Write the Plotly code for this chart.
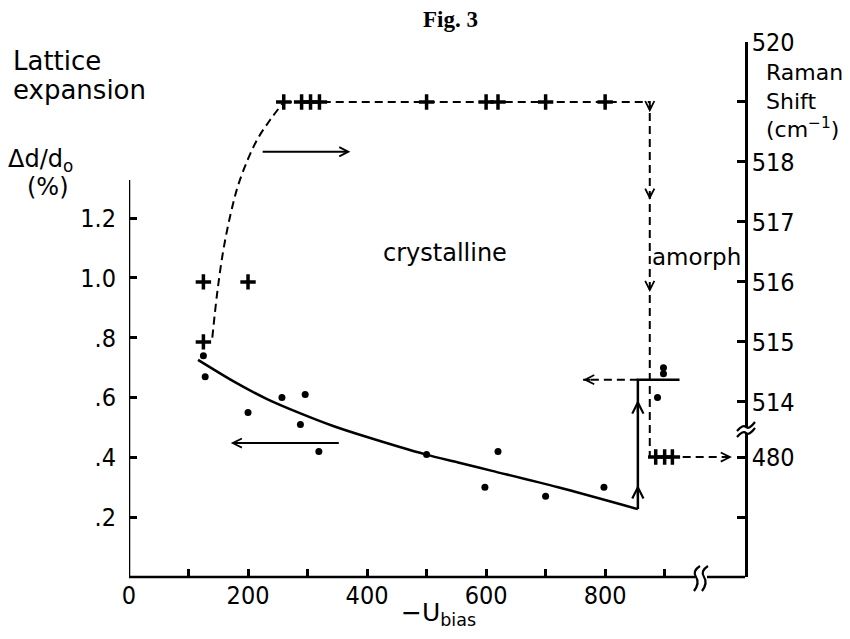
import plotly.graph_objects as go

# ---------------- data ----------------
# Lattice expansion (left axis, %), filled dots
bias_lattice = [125, 128, 200, 257, 288, 296, 319, 500, 598, 620, 700, 798, 888, 898, 898]
lattice = [0.74, 0.67, 0.55, 0.60, 0.51, 0.61, 0.42, 0.41, 0.30, 0.42, 0.27, 0.30, 0.60, 0.70, 0.68]

# smooth solid fit through the lattice data
fit_bias = [116, 175, 232, 287, 343, 400, 498, 553, 610, 721, 855]
fit_lattice = [0.726, 0.655, 0.595, 0.548, 0.505, 0.468, 0.410, 0.383, 0.355, 0.300, 0.227]

# solid jump at the crystalline/amorphous transition
jump_bias = [855, 855, 925]
jump_lattice = [0.227, 0.66, 0.66]

# dashed line pointing back to the lattice axis
back_bias = [855, 763]
back_lattice = [0.66, 0.66]

# Raman shift (right axis, cm-1), "+" markers
bias_raman = [125, 125, 200, 260, 290, 305, 320, 500, 600, 620, 700, 800, 885, 900, 913]
raman = [515, 516, 516, 519, 519, 519, 519, 519, 519, 519, 519, 519, 480, 480, 480]

# dashed guide curve for the Raman data
guide_bias = [140, 148, 158, 170, 183, 200, 217, 237, 260]
guide_raman = [515.07, 515.8, 516.5, 517.1, 517.6, 518.05, 518.4, 518.7, 519.0]
plateau_bias = [260, 875, 875, 1013]
plateau_raman = [519, 519, 480, 480]

# axes
x_ticks = [0, 100, 200, 300, 400, 500, 600, 700, 800, 900]
x_labels = ["0", "", "200", "", "400", "", "600", "", "800", ""]
y_ticks = [0.2, 0.4, 0.6, 0.8, 1.0, 1.2]
y_labels = [".2", ".4", ".6", ".8", "1.0", "1.2"]
raman_ticks = [470, 480, 514, 515, 516, 517, 518, 519, 520]
raman_labels = ["", "480", "514", "515", "516", "517", "518", "", "520"]

# ---------------- layout geometry ----------------
W, H = 850, 639
OFF = 8                      # page body margin of the html page
L, T = 129, 42               # plot-area corner on screen
PW, PH = 616, 535
ML, MT = L - OFF, T - OFF
MR, MB = W - ML - PW, H - MT - PH
X_RANGE = [0, 1035]
Y_RANGE = [0, 1.789]
Y2_RANGE = [511.08, 520.0]

NUM_FONT = "DejaVu Sans Condensed, Liberation Sans Narrow, Arial Narrow, sans-serif"
TXT_FONT = "DejaVu Sans, Verdana, sans-serif"
LW = 2.5
DASH = "8px,5px"


def pxx(x):
    return (x - L) / PW


def pxy(y):
    return (T + PH - y) / PH


def rpos(v):
    """broken right axis: 514..520 linear, 480 region below the break"""
    return v if v >= 513.5 else 513.08 + (v - 480) * 0.101


fig = go.Figure()

fig.add_trace(go.Scatter(x=fit_bias, y=fit_lattice, mode="lines",
                         line=dict(color="black", width=LW, shape="spline", smoothing=0.8),
                         hoverinfo="skip"))
fig.add_trace(go.Scatter(x=jump_bias, y=jump_lattice, mode="lines",
                         line=dict(color="black", width=LW), hoverinfo="skip"))
fig.add_trace(go.Scatter(x=back_bias, y=back_lattice, mode="lines",
                         line=dict(color="black", width=2, dash=DASH), hoverinfo="skip"))
fig.add_trace(go.Scatter(x=bias_lattice, y=lattice, mode="markers",
                         marker=dict(color="black", size=7, symbol="circle")))

fig.add_trace(go.Scatter(x=guide_bias, y=[rpos(v) for v in guide_raman], yaxis="y2",
                         mode="lines",
                         line=dict(color="black", width=2, dash=DASH, shape="spline"),
                         hoverinfo="skip"))
fig.add_trace(go.Scatter(x=plateau_bias, y=[rpos(v) for v in plateau_raman], yaxis="y2",
                         mode="lines", line=dict(color="black", width=2, dash=DASH),
                         hoverinfo="skip"))
fig.add_trace(go.Scatter(x=bias_raman, y=[rpos(v) for v in raman], yaxis="y2",
                         mode="markers",
                         marker=dict(symbol="cross-thin", size=11,
                                     line=dict(color="black", width=3.5))))

annotations = []


def arrow(x, y, ax, ay, yref="y", head=5, size=0.9, width=2):
    annotations.append(dict(x=x, y=y, ax=ax, ay=ay, xref="x", yref=yref,
                            axref="x", ayref=yref, text="", showarrow=True,
                            arrowhead=head, arrowsize=size, arrowwidth=width,
                            arrowcolor="black", standoff=0, startstandoff=0))


# big arrows telling which axis each curve belongs to
arrow(372, rpos(518.17), 222, rpos(518.17), yref="y2")
arrow(171, 0.448, 355, 0.448)
# heads on the dashed / solid transition lines
arrow(763, 0.66, 778, 0.66)
arrow(1013, rpos(480), 998, rpos(480), yref="y2")
for v in [518.83, 517.37, 515.83]:
    arrow(875, rpos(v), 875, rpos(v) + 0.14, yref="y2")
for v in [0.308, 0.592]:
    arrow(855, v, 855, v - 0.045, size=1.1)


def text(t, xp, yp, size, xanchor="center", yanchor="middle", family=TXT_FONT, align="center"):
    annotations.append(dict(text=t, x=pxx(xp), y=pxy(yp), xref="paper", yref="paper",
                            xanchor=xanchor, yanchor=yanchor, showarrow=False, align=align,
                            font=dict(family=family, size=size, color="black")))


text("<b>Fig. 3</b>", 450, 20, 23, family="Liberation Serif, DejaVu Serif, serif")
text("Lattice", 11, 61, 26, xanchor="left")
text("expansion", 11, 90, 26, xanchor="left")
text("\u0394d/d<sub>o</sub>", 6, 160, 24, xanchor="left")
text("(%)", 25, 187, 24, xanchor="left")
text("crystalline", 445, 253, 24)
text("amorph", 743, 257, 23, xanchor="right")
text("Raman<br>Shift<br>(cm<sup>\u22121</sup>)", 764, 101, 22, xanchor="left", align="left")
text("\u2212U<sub>bias</sub>", 438, 614, 25)

# ---------------- axis lines and breaks ----------------
shapes = [
    # left axis line (shorter than the plot height)
    dict(type="line", xref="x", yref="y", x0=0, x1=0, y0=0, y1=1.3275,
         line=dict(color="black", width=LW)),
    # bottom axis with a gap for the break
    dict(type="line", xref="paper", yref="paper", x0=0, x1=pxx(695), y0=0, y1=0,
         line=dict(color="black", width=LW)),
    dict(type="line", xref="paper", yref="paper", x0=pxx(707), x1=1, y0=0, y1=0,
         line=dict(color="black", width=LW)),
    dict(type="path", xref="paper", yref="paper",
         path=f"M{pxx(694)},{pxy(591)} Q{pxx(700)},{pxy(583)} {pxx(696)},{pxy(577)} "
              f"T{pxx(700)},{pxy(566)}",
         line=dict(color="black", width=2.2)),
    dict(type="path", xref="paper", yref="paper",
         path=f"M{pxx(702)},{pxy(591)} Q{pxx(708)},{pxy(583)} {pxx(704)},{pxy(577)} "
              f"T{pxx(708)},{pxy(566)}",
         line=dict(color="black", width=2.2)),
    # right axis break
    dict(type="rect", xref="paper", yref="paper", x0=pxx(741), x1=pxx(749),
         y0=pxy(433), y1=pxy(427), fillcolor="white", line=dict(width=0), layer="above"),
    dict(type="path", xref="paper", yref="paper",
         path=f"M{pxx(737)},{pxy(437)} Q{pxx(743)},{pxy(430)} {pxx(746)},{pxy(433)} "
              f"T{pxx(755)},{pxy(428)}",
         line=dict(color="black", width=2.2)),
    dict(type="path", xref="paper", yref="paper",
         path=f"M{pxx(737)},{pxy(431)} Q{pxx(743)},{pxy(424)} {pxx(746)},{pxy(427)} "
              f"T{pxx(755)},{pxy(422)}",
         line=dict(color="black", width=2.2)),
]

fig.update_layout(
    width=W, height=H,
    margin=dict(l=ML, r=MR, t=MT, b=MB, pad=0),
    paper_bgcolor="white", plot_bgcolor="white",
    showlegend=False,
    xaxis=dict(range=X_RANGE, showgrid=False, zeroline=False, showline=False,
               ticks="inside", ticklen=8, tickwidth=LW, tickcolor="black",
               tickvals=x_ticks, ticktext=x_labels,
               tickfont=dict(family=NUM_FONT, size=25, color="black"),
               ticklabelstandoff=1),
    yaxis=dict(range=Y_RANGE, showgrid=False, zeroline=False, showline=False,
               ticks="inside", ticklen=8, tickwidth=LW, tickcolor="black",
               tickvals=y_ticks, ticktext=y_labels,
               tickfont=dict(family=NUM_FONT, size=25, color="black"),
               ticklabelstandoff=12),
    yaxis2=dict(range=Y2_RANGE, overlaying="y", side="right", anchor="x",
                showgrid=False, zeroline=False, showline=True, linecolor="black",
                linewidth=LW, ticks="inside", ticklen=8, tickwidth=LW, tickcolor="black",
                tickvals=[rpos(v) for v in raman_ticks], ticktext=raman_labels,
                tickfont=dict(family=NUM_FONT, size=25, color="black"),
                ticklabelstandoff=-1),
    annotations=annotations,
    shapes=shapes,
)

fig.write_html("out.html")
